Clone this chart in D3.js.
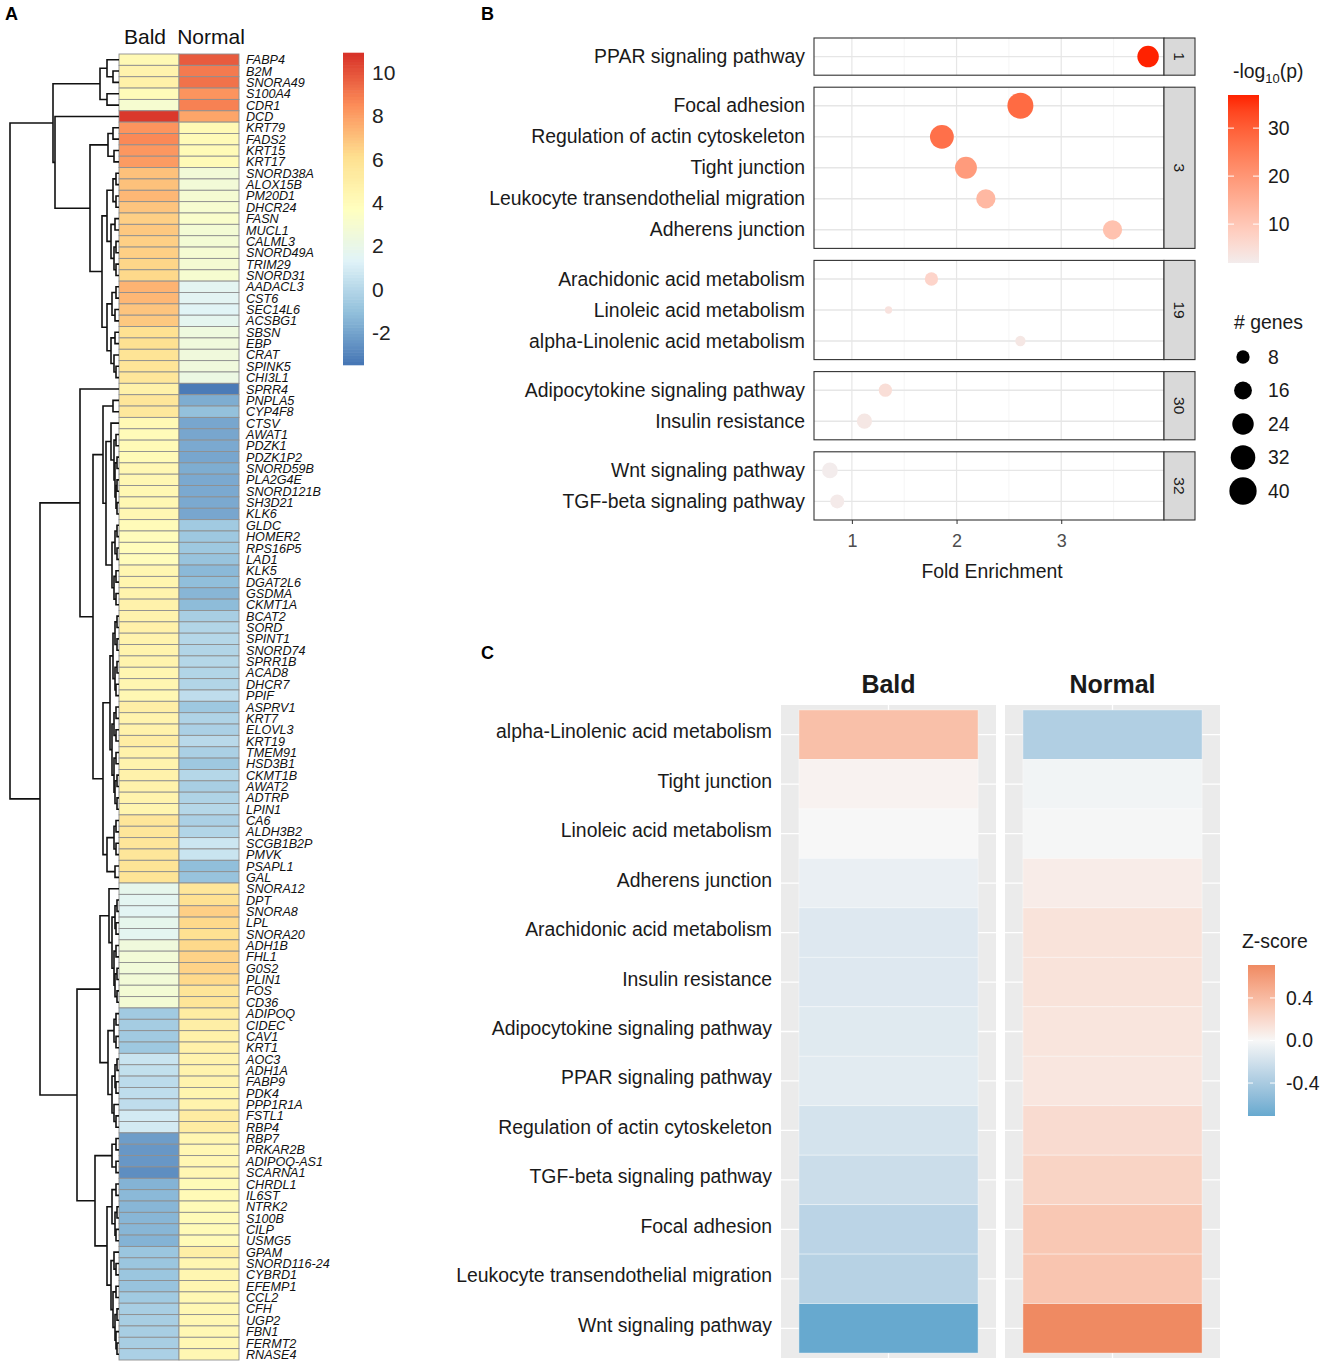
<!DOCTYPE html>
<html lang="en">
<head>
<meta charset="UTF-8">
<title>Bald vs Normal</title>
<script src="https://d3js.org/d3.v7.min.js"></script>
<style>
  body { margin: 0; background: #fff; }
  svg { font-family: "Liberation Sans", Arial, sans-serif; }
</style>
</head>
<body>
<script>
// ---------- Panel A data ----------
const genes = ["FABP4","B2M","SNORA49","S100A4","CDR1","DCD","KRT79","FADS2","KRT15","KRT17",
  "SNORD38A","ALOX15B","PM20D1","DHCR24","FASN","MUCL1","CALML3","SNORD49A","TRIM29","SNORD31",
  "AADACL3","CST6","SEC14L6","ACSBG1","SBSN","EBP","CRAT","SPINK5","CHI3L1","SPRR4",
  "PNPLA5","CYP4F8","CTSV","AWAT1","PDZK1","PDZK1P2","SNORD59B","PLA2G4E","SNORD121B","SH3D21",
  "KLK6","GLDC","HOMER2","RPS16P5","LAD1","KLK5","DGAT2L6","GSDMA","CKMT1A","BCAT2",
  "SORD","SPINT1","SNORD74","SPRR1B","ACAD8","DHCR7","PPIF","ASPRV1","KRT7","ELOVL3",
  "KRT19","TMEM91","HSD3B1","CKMT1B","AWAT2","ADTRP","LPIN1","CA6","ALDH3B2","SCGB1B2P",
  "PMVK","PSAPL1","GAL","SNORA12","DPT","SNORA8","LPL","SNORA20","ADH1B","FHL1",
  "G0S2","PLIN1","FOS","CD36","ADIPOQ","CIDEC","CAV1","KRT1","AOC3","ADH1A",
  "FABP9","PDK4","PPP1R1A","FSTL1","RBP4","RBP7","PRKAR2B","ADIPOQ-AS1","SCARNA1","CHRDL1",
  "IL6ST","NTRK2","S100B","CILP","USMG5","GPAM","SNORD116-24","CYBRD1","EFEMP1","CCL2",
  "CFH","UGP2","FBN1","FERMT2","RNASE4"];

const baldExpr = [4.2,4.6,4.8,4.0,3.0,10.7,8.3,8.6,8.2,8.1,
  7.0,7.0,7.3,6.9,6.6,6.8,6.6,6.6,6.4,6.3,
  7.4,7.3,6.9,6.8,6.0,6.0,5.8,5.7,5.6,4.8,
  5.6,5.5,4.2,4.0,4.1,4.1,4.3,4.3,4.3,4.3,
  4.3,4.0,3.9,3.9,3.9,4.4,4.5,4.6,4.7,4.6,
  4.8,4.6,4.6,4.6,4.4,4.4,4.3,5.0,4.6,4.7,
  5.1,4.7,4.6,4.7,4.7,4.6,4.5,5.6,5.6,5.6,
  5.6,5.8,5.8,1.8,1.6,1.5,1.8,1.6,2.5,2.7,
  2.6,2.7,2.8,2.8,-0.6,-0.5,-0.6,-0.7,0.6,0.4,
  0.2,0.3,0.3,0.9,0.9,-2.2,-2.4,-2.4,-2.7,-1.5,
  -1.3,-1.4,-1.4,-1.4,-1.5,-0.8,-0.8,-0.8,-0.9,-0.6,
  -0.4,-0.4,-0.4,-0.4,-0.3];

const normalExpr = [9.8,9.0,9.2,8.3,8.8,7.8,4.2,4.1,4.1,4.1,
  2.7,2.7,2.9,3.0,3.2,2.8,2.8,2.9,2.9,3.0,
  1.6,1.5,1.4,1.7,2.4,2.5,2.5,2.5,2.2,-3.3,
  -1.7,-1.0,-1.9,-1.9,-1.8,-1.9,-1.7,-1.8,-1.8,-1.8,
  -1.9,-0.6,-0.7,-0.7,-0.9,-1.3,-1.1,-1.4,-1.2,-0.4,
  -0.1,0.0,-0.1,0.0,-0.1,-0.1,0.3,-0.7,-0.2,-0.3,
  0.1,-0.3,-0.7,0.0,-0.4,-0.2,0.0,-0.3,-0.1,0.7,
  0.6,-1.1,-0.9,5.6,6.0,6.6,6.3,6.0,6.3,6.5,
  6.5,6.3,5.7,5.7,5.2,5.0,4.8,4.8,4.6,4.6,
  4.6,4.5,4.6,5.2,5.2,4.4,4.3,4.3,4.3,4.1,
  4.1,4.1,4.1,4.1,4.1,5.0,4.4,4.4,4.4,4.3,
  4.3,4.3,4.3,4.3,4.3];

const exprTicks = [10, 8, 6, 4, 2, 0, -2];

// row dendrogram: [height, left, right], leaves are gene names
const dendro = [109,
  [66,
    [19, [12, "FABP4", [6, "B2M", "SNORA49"]], [12, "S100A4", "CDR1"]],
    [64, "DCD",
      [29,
        [11, [6, "KRT79", "FADS2"], [5, "KRT15", "KRT17"]],
        [17,
          [12, [6, [3, "SNORD38A", "ALOX15B"], [3, "PM20D1", "DHCR24"]],
               [8, [4, "FASN", "MUCL1"], [5, [3, "CALML3", "SNORD49A"], [3, "TRIM29", "SNORD31"]]]],
          [12, [7, [3, "AADACL3", "CST6"], [4, "SEC14L6", "ACSBG1"]],
               [8, [4, "SBSN", "EBP"], [5, "CRAT", [3, "SPINK5", "CHI3L1"]]]]]]]],
  [79,
    [39, "SPRR4",
      [26,
        [16, [6, "PNPLA5", "CYP4F8"],
          [13,
            [8, "CTSV", [5, [3, "AWAT1", "PDZK1"], [4, [2, "PDZK1P2", "SNORD59B"], [3, [2, "PLA2G4E", "SNORD121B"], [2, "SH3D21", "KLK6"]]]]],
            [7, [4, [2, "GLDC", "HOMER2"], [2, "RPS16P5", "LAD1"]], [5, [3, "KLK5", "DGAT2L6"], [3, "GSDMA", "CKMT1A"]]]]],
        [16,
          [9, [6, [4, [2, "BCAT2", "SORD"], [2, "SPINT1", "SNORD74"]], [4, [2, "SPRR1B", "ACAD8"], [3, "DHCR7", "PPIF"]]],
              [7, [5, [3, "ASPRV1", "KRT7"], [3, "ELOVL3", "KRT19"]],
                  [5, [3, "TMEM91", "HSD3B1"], [4, [2, "CKMT1B", "AWAT2"], [2, "ADTRP", "LPIN1"]]]]],
          [12, [5, [3, "CA6", "ALDH3B2"], [3, "SCGB1B2P", "PMVK"]], [4, "PSAPL1", "GAL"]]]]],
    [42,
      [19,
        [10, "SNORA12", [7, [4, [2, "DPT", "SNORA8"], [3, "LPL", "SNORA20"]], [5, [3, "ADH1B", "FHL1"], [4, [2, "G0S2", "PLIN1"], [2, "FOS", "CD36"]]]]],
        [11, [5, [3, "ADIPOQ", "CIDEC"], [3, "CAV1", "KRT1"]],
             [7, [4, [2, "AOC3", "ADH1A"], [3, "FABP9", "PDK4"]], [5, "PPP1R1A", [3, "FSTL1", "RBP4"]]]]],
      [24,
        [7, [3, "RBP7", "PRKAR2B"], [3, "ADIPOQ-AS1", "SCARNA1"]],
        [12, [7, [3, "CHRDL1", "IL6ST"], [4, [2, "NTRK2", "S100B"], [3, "CILP", "USMG5"]]],
             [8, [5, "GPAM", [3, "SNORD116-24", "CYBRD1"]],
                 [6, [3, "EFEMP1", "CCL2"], [4, [2, "CFH", "UGP2"], [3, "FBN1", [2, "FERMT2", "RNASE4"]]]]]]]]]];

// ---------- Panel B data ----------
const pathwaysB = ["PPAR signaling pathway", "Focal adhesion", "Regulation of actin cytoskeleton",
  "Tight junction", "Leukocyte transendothelial migration", "Adherens junction",
  "Arachidonic acid metabolism", "Linoleic acid metabolism", "alpha-Linolenic acid metabolism",
  "Adipocytokine signaling pathway", "Insulin resistance", "Wnt signaling pathway", "TGF-beta signaling pathway"];
const clusterB = ["1", "3", "3", "3", "3", "3", "19", "19", "19", "30", "30", "32", "32"];
const foldEnrichment = [3.83, 2.61, 1.86, 2.09, 2.28, 3.49, 1.76, 1.35, 2.61, 1.32, 1.12, 0.79, 0.86];
const geneCount = [24, 36, 30, 25, 19, 19, 8, 1, 4, 8, 11, 12, 9];
const negLogP = [36.9, 28, 27, 19, 13, 11, 7, 4, 3, 5, 3, 1.9, 2.4];
const feTicks = [1, 2, 3];
const pTicks = [10, 20, 30];
const sizeKeys = [8, 16, 24, 32, 40];

// ---------- Panel C data ----------
const pathwaysC = ["alpha-Linolenic acid metabolism", "Tight junction", "Linoleic acid metabolism",
  "Adherens junction", "Arachidonic acid metabolism", "Insulin resistance",
  "Adipocytokine signaling pathway", "PPAR signaling pathway", "Regulation of actin cytoskeleton",
  "TGF-beta signaling pathway", "Focal adhesion", "Leukocyte transendothelial migration", "Wnt signaling pathway"];
const groupsC = ["Bald", "Normal"];
const zBald = [0.36, 0.03, 0.0, -0.07, -0.13, -0.13, -0.12, -0.11, -0.18, -0.23, -0.31, -0.33, -0.71];
const zNormal = [-0.36, -0.03, -0.01, 0.07, 0.13, 0.13, 0.12, 0.11, 0.18, 0.23, 0.31, 0.33, 0.71];
const zTicks = [0.4, 0.0, -0.4];

const svg = d3.select("body").append("svg")
  .attr("width", 1325)
  .attr("height", 1367);
const defs = svg.append("defs");
const ggText = "19.4px";

// panel letters
svg.append("g").selectAll("text")
  .data([["A", 5, 20], ["B", 481, 20], ["C", 481, 659]])
  .join("text")
  .attr("x", d => d[1]).attr("y", d => d[2])
  .style("font-size", "18px").style("font-weight", "bold")
  .text(d => d[0]);

// ================= Panel A =================
const rowY = d3.scaleBand().domain(genes).range([54, 1360]);
const colX = d3.scaleBand().domain(["Bald", "Normal"]).range([119, 239]);
const exprMin = -3.5, exprMax = 10.9;
const heatStops = ["#4575B4", "#91BFDB", "#E0F3F8", "#FFFFBF", "#FEE090", "#FC8D59", "#D73027"];
const heatColor = d3.scaleLinear()
  .domain(d3.range(7).map(i => exprMin + i * (exprMax - exprMin) / 6))
  .range(heatStops);

const cells = genes.flatMap((g, i) => [
  { gene: g, col: "Bald", v: baldExpr[i] },
  { gene: g, col: "Normal", v: normalExpr[i] }
]);

svg.append("g")
  .selectAll("rect")
  .data(cells)
  .join("rect")
  .attr("x", d => colX(d.col))
  .attr("y", d => rowY(d.gene))
  .attr("width", colX.bandwidth())
  .attr("height", rowY.bandwidth())
  .attr("fill", d => heatColor(d.v))
  .attr("stroke", "#8f8f8f")
  .attr("stroke-width", 0.9);

svg.append("g")
  .selectAll("text")
  .data(colX.domain())
  .join("text")
  .attr("x", (d, i) => colX(d) + colX.bandwidth() / 2 + (i ? 2 : -4))
  .attr("y", 44)
  .attr("text-anchor", "middle")
  .style("font-size", "21px")
  .attr("fill", "#111")
  .text(d => d);

svg.append("g")
  .selectAll("text")
  .data(genes)
  .join("text")
  .attr("x", 246)
  .attr("y", d => rowY(d) + rowY.bandwidth() / 2)
  .attr("dy", "0.36em")
  .style("font-size", "12.6px")
  .style("font-style", "italic")
  .attr("fill", "#111")
  .text(d => d);

// dendrogram
const treeX = d3.scaleLinear().domain([0, 109]).range([119, 10]);
const root = d3.hierarchy(dendro, d => Array.isArray(d) ? d.slice(1) : null);
root.eachAfter(n => {
  if (n.children) {
    n.h = n.data[0];
    n.yy = d3.mean(n.children, c => c.yy);
  } else {
    n.h = 0;
    n.yy = rowY(n.data) + rowY.bandwidth() / 2;
  }
});
svg.append("g")
  .selectAll("path")
  .data(root.descendants().filter(n => n.children))
  .join("path")
  .attr("fill", "none")
  .attr("stroke", "#111")
  .attr("stroke-width", 1.6)
  .attr("d", n => {
    const [a, b] = n.children;
    return `M${treeX(a.h)},${a.yy}H${treeX(n.h)}V${b.yy}H${treeX(b.h)}`;
  });

// colour key
const keyY = d3.scaleLinear().domain([exprMin, exprMax]).range([365, 53]);
const keySteps = d3.range(100).map(i => exprMin + (i + 0.5) * (exprMax - exprMin) / 100);
svg.append("g")
  .selectAll("rect")
  .data(keySteps)
  .join("rect")
  .attr("x", 343)
  .attr("width", 21)
  .attr("y", d => keyY(d) - (keyY(exprMin) - keyY(exprMax)) / 200 - 0.3)
  .attr("height", (keyY(exprMin) - keyY(exprMax)) / 100 + 0.6)
  .attr("fill", d => heatColor(d));
svg.append("g")
  .selectAll("text")
  .data(exprTicks)
  .join("text")
  .attr("x", 372)
  .attr("y", d => keyY(d))
  .attr("dy", "0.36em")
  .style("font-size", "21px")
  .attr("fill", "#222")
  .text(d => d);

// ================= Panel B =================
const plotL = 814, plotR = 1164, stripR = 1195;
const rowStepB = 31, facetGap = 12;
const facetsB = Array.from(new Set(clusterB));
let yCursor = 38;
const facetInfo = facetsB.map(f => {
  const items = pathwaysB.filter((p, i) => clusterB[i] === f);
  const h = (items.length - 1 + 1.2) * rowStepB;
  const scale = d3.scalePoint().domain(items).range([yCursor, yCursor + h]).padding(0.6);
  const info = { f, items, top: yCursor, bottom: yCursor + h, scale };
  yCursor += h + facetGap;
  return info;
});
const yB = p => {
  const fi = facetInfo.find(d => d.items.includes(p));
  return fi.scale(p);
};

const feExt = d3.extent(foldEnrichment);
const fePad = (feExt[1] - feExt[0]) * 0.05;
const xB = d3.scaleLinear().domain([feExt[0] - fePad, feExt[1] + fePad]).range([plotL, plotR]);
const sizeB = d3.scaleRadial().domain([0, 40]).range([2.95, 13.65]);
const colorB = d3.scaleLinear().domain(d3.extent(negLogP)).range(["#f3ecec", "#ff2200"]).interpolate(d3.interpolateLab);

const minorB = d3.range(Math.ceil(xB.domain()[0] * 2) / 2, xB.domain()[1], 0.5).filter(v => !feTicks.includes(v));

const fg = svg.append("g").selectAll("g").data(facetInfo).join("g");
fg.append("rect")
  .attr("x", plotL).attr("y", d => d.top)
  .attr("width", plotR - plotL).attr("height", d => d.bottom - d.top)
  .attr("fill", "#fff");
fg.selectAll(".minor")
  .data(d => minorB.map(v => ({ v, d })))
  .join("line")
  .attr("x1", e => xB(e.v)).attr("x2", e => xB(e.v))
  .attr("y1", e => e.d.top).attr("y2", e => e.d.bottom)
  .attr("stroke", "#f0f0f0").attr("stroke-width", 0.7);
fg.selectAll(".major")
  .data(d => feTicks.map(v => ({ v, d })))
  .join("line")
  .attr("x1", e => xB(e.v)).attr("x2", e => xB(e.v))
  .attr("y1", e => e.d.top).attr("y2", e => e.d.bottom)
  .attr("stroke", "#e6e6e6").attr("stroke-width", 1.2);
fg.selectAll(".hgrid")
  .data(d => d.items.map(p => ({ p, d })))
  .join("line")
  .attr("x1", plotL).attr("x2", plotR)
  .attr("y1", e => e.d.scale(e.p)).attr("y2", e => e.d.scale(e.p))
  .attr("stroke", "#e6e6e6").attr("stroke-width", 1.4);

svg.append("g")
  .selectAll("circle")
  .data(pathwaysB.map((p, i) => ({ p, fe: foldEnrichment[i], n: geneCount[i], lp: negLogP[i] })))
  .join("circle")
  .attr("cx", d => xB(d.fe))
  .attr("cy", d => yB(d.p))
  .attr("r", d => sizeB(d.n))
  .attr("fill", d => colorB(d.lp));

fg.append("rect")
  .attr("x", plotL).attr("y", d => d.top)
  .attr("width", plotR - plotL).attr("height", d => d.bottom - d.top)
  .attr("fill", "none").attr("stroke", "#333").attr("stroke-width", 1.1);
fg.append("rect")
  .attr("x", plotR).attr("y", d => d.top)
  .attr("width", stripR - plotR).attr("height", d => d.bottom - d.top)
  .attr("fill", "#d9d9d9").attr("stroke", "#333").attr("stroke-width", 1.1);
fg.append("text")
  .attr("transform", d => `translate(${(plotR + stripR) / 2},${(d.top + d.bottom) / 2}) rotate(90)`)
  .attr("text-anchor", "middle")
  .attr("dy", "0.35em")
  .style("font-size", "15.5px")
  .attr("fill", "#1a1a1a")
  .text(d => d.f);

svg.append("g")
  .selectAll("text")
  .data(pathwaysB)
  .join("text")
  .attr("x", 805)
  .attr("y", d => yB(d))
  .attr("dy", "0.34em")
  .attr("text-anchor", "end")
  .style("font-size", ggText)
  .attr("fill", "#1a1a1a")
  .text(d => d);

const lastBottom = facetInfo[facetInfo.length - 1].bottom;
const axB = svg.append("g")
  .attr("transform", `translate(0,${lastBottom})`)
  .call(d3.axisBottom(xB).tickValues(feTicks).tickSize(4).tickPadding(10).tickFormat(d3.format("d")));
axB.select(".domain").remove();
axB.selectAll("line").attr("stroke", "#333");
axB.selectAll("text").style("font-size", "18px").attr("fill", "#4d4d4d").style("font-family", "Liberation Sans, Arial, sans-serif");

svg.append("text")
  .attr("x", (plotL + plotR) / 2 + 3).attr("y", 578)
  .attr("text-anchor", "middle")
  .style("font-size", ggText)
  .attr("fill", "#1a1a1a")
  .text("Fold Enrichment");

// legend: -log10(p)
const lpT = svg.append("text").attr("x", 1233).attr("y", 78).style("font-size", ggText).attr("fill", "#1a1a1a");
lpT.append("tspan").text("-log");
lpT.append("tspan").attr("dy", 5).style("font-size", "13px").text("10");
lpT.append("tspan").attr("dy", -5).text("(p)");

const legPY = d3.scaleLinear().domain(d3.extent(negLogP)).range([263, 95]);
const gradB = defs.append("linearGradient").attr("id", "gradB")
  .attr("x1", 0).attr("y1", 1).attr("x2", 0).attr("y2", 0);
gradB.selectAll("stop")
  .data(d3.range(11).map(i => i / 10))
  .join("stop")
  .attr("offset", d => d)
  .attr("stop-color", d => colorB(colorB.domain()[0] + d * (colorB.domain()[1] - colorB.domain()[0])));
svg.append("rect").attr("x", 1228).attr("y", 95).attr("width", 31).attr("height", 168).attr("fill", "url(#gradB)");
svg.append("g").selectAll("path")
  .data(pTicks)
  .join("path")
  .attr("d", d => `M1228,${legPY(d)}h6M1253,${legPY(d)}h6`)
  .attr("stroke", "#fff").attr("stroke-width", 1);
svg.append("g").selectAll("text")
  .data(pTicks)
  .join("text")
  .attr("x", 1268).attr("y", d => legPY(d))
  .attr("dy", "0.36em")
  .style("font-size", ggText).attr("fill", "#1a1a1a")
  .text(d => d);

// legend: # genes
svg.append("text").attr("x", 1234).attr("y", 329)
  .style("font-size", ggText).attr("fill", "#1a1a1a").text("# genes");
const sizeKeyY = d3.scalePoint().domain(sizeKeys).range([357, 491]);
svg.append("g").selectAll("circle")
  .data(sizeKeys)
  .join("circle")
  .attr("cx", 1243).attr("cy", d => sizeKeyY(d))
  .attr("r", d => sizeB(d)).attr("fill", "#000");
svg.append("g").selectAll("text")
  .data(sizeKeys)
  .join("text")
  .attr("x", 1268).attr("y", d => sizeKeyY(d))
  .attr("dy", "0.36em")
  .style("font-size", ggText).attr("fill", "#1a1a1a")
  .text(d => d);

// ================= Panel C =================
const yC = d3.scaleBand().domain(pathwaysC).range([705, 1358]).paddingOuter(0.1);
const panelX = { Bald: [781, 996], Normal: [1005, 1220] };
const zColor = d3.scaleLinear().domain([-0.71, 0, 0.71])
  .range(["#67a9cf", "#f7f7f7", "#ef8a62"]).interpolate(d3.interpolateLab);

groupsC.forEach((grp, gi) => {
  const [x0, x1] = panelX[grp];
  const xC = d3.scaleBand().domain([grp]).range([x0, x1]).paddingOuter(0.1);
  const vals = gi === 0 ? zBald : zNormal;
  const g = svg.append("g");
  g.append("rect").attr("x", x0).attr("y", 705).attr("width", x1 - x0).attr("height", 653).attr("fill", "#ebebeb");
  g.selectAll(".hg")
    .data(pathwaysC)
    .join("line")
    .attr("x1", x0).attr("x2", x1)
    .attr("y1", d => yC(d) + yC.bandwidth() / 2).attr("y2", d => yC(d) + yC.bandwidth() / 2)
    .attr("stroke", "#fff").attr("stroke-width", 1.3);
  g.append("line")
    .attr("x1", xC(grp) + xC.bandwidth() / 2).attr("x2", xC(grp) + xC.bandwidth() / 2)
    .attr("y1", 705).attr("y2", 1358)
    .attr("stroke", "#fff").attr("stroke-width", 1.3);
  g.selectAll(".tile")
    .data(pathwaysC.map((p, i) => ({ p, v: vals[i] })))
    .join("rect")
    .attr("x", xC(grp))
    .attr("y", d => yC(d.p))
    .attr("width", xC.bandwidth())
    .attr("height", yC.bandwidth())
    .attr("fill", d => zColor(d.v))
    .attr("stroke", "#fff").attr("stroke-opacity", 0.5).attr("stroke-width", 0.8);
  g.append("text")
    .attr("x", (x0 + x1) / 2).attr("y", 693)
    .attr("text-anchor", "middle")
    .style("font-size", "25px").style("font-weight", "bold")
    .attr("fill", "#1a1a1a")
    .text(grp);
});

svg.append("g")
  .selectAll("text")
  .data(pathwaysC)
  .join("text")
  .attr("x", 772)
  .attr("y", d => yC(d) + yC.bandwidth() / 2)
  .attr("dy", "0.18em")
  .attr("text-anchor", "end")
  .style("font-size", ggText)
  .attr("fill", "#1a1a1a")
  .text(d => d);

// legend: Z-score
svg.append("text").attr("x", 1242).attr("y", 948)
  .style("font-size", ggText).attr("fill", "#1a1a1a").text("Z-score");
const legZY = d3.scaleLinear().domain([-0.71, 0.71]).range([1116, 965]);
const gradC = defs.append("linearGradient").attr("id", "gradC")
  .attr("x1", 0).attr("y1", 1).attr("x2", 0).attr("y2", 0);
gradC.selectAll("stop")
  .data(d3.range(21).map(i => i / 20))
  .join("stop")
  .attr("offset", d => d)
  .attr("stop-color", d => zColor(-0.71 + d * 1.42));
svg.append("rect").attr("x", 1248).attr("y", 965).attr("width", 27).attr("height", 151).attr("fill", "url(#gradC)");
svg.append("g").selectAll("path")
  .data(zTicks)
  .join("path")
  .attr("d", d => `M1248,${legZY(d)}h5M1270,${legZY(d)}h5`)
  .attr("stroke", "#fff").attr("stroke-width", 1);
svg.append("g").selectAll("text")
  .data(zTicks)
  .join("text")
  .attr("x", 1286).attr("y", d => legZY(d))
  .attr("dy", "0.36em")
  .style("font-size", ggText).attr("fill", "#1a1a1a")
  .text(d => d.toFixed(1));
</script>
</body>
</html>
